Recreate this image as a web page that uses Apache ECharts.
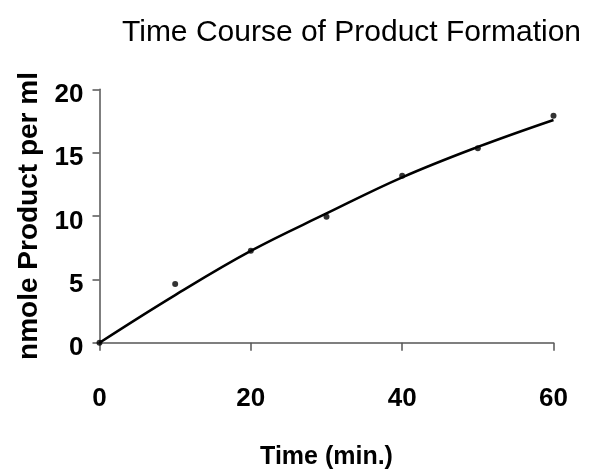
<!DOCTYPE html>
<html>
<head>
<meta charset="utf-8">
<script src="https://cdn.jsdelivr.net/npm/echarts@6/dist/echarts.min.js"></script>
<style>html,body{margin:0;padding:0;background:#fff;}#c{width:592px;height:469px;}</style>
</head>
<body>
<div id="c"></div>
<script>
const timeMin = [0, 10, 20, 30, 40, 50, 60];
const product = [0, 4.63, 7.26, 9.95, 13.18, 15.34, 17.92];
const trendTime = [0, 10, 20, 30, 40, 50, 60];
const trendValue = [0, 3.76, 7.25, 10.2, 13.05, 15.45, 17.58];
const xTicks = [0, 20, 40, 60];
const yTicks = [0, 5, 10, 15, 20];

const chart = echarts.init(document.getElementById('c'), null, {renderer: 'canvas'});
const font = 'Liberation Sans, Arial, sans-serif';
chart.setOption({
  animation: false,
  backgroundColor: '#fff',
  title: {
    text: 'Time Course of Product Formation',
    left: 117, top: 13,
    textStyle: {fontFamily: font, fontWeight: 'normal', fontSize: 30, color: '#000'}
  },
  grid: {left: 99.5, right: 38.5, top: 89.3, bottom: 126.3, containLabel: false, outerBoundsMode: 'none'},
  xAxis: {
    type: 'value', min: 0, max: 60, interval: 20,
    name: 'Time (min.)', nameLocation: 'middle', nameGap: 102,
    nameTextStyle: {fontFamily: font, fontWeight: 'bold', fontSize: 25, color: '#000'},
    axisLine: {show: true, lineStyle: {color: '#555', width: 1.5}},
    axisTick: {show: true, inside: false, length: 8, lineStyle: {color: '#555', width: 1.5}},
    axisLabel: {margin: 43, fontFamily: font, fontWeight: 'bold', fontSize: 26, color: '#000',
      formatter: v => xTicks.includes(v) ? String(v) : ''},
    splitLine: {show: false}
  },
  yAxis: {
    type: 'value', min: 0, max: 20, interval: 5,
    name: 'nmole Product per ml', nameLocation: 'middle', nameGap: 54,
    nameTextStyle: {fontFamily: font, fontWeight: 'bold', fontSize: 28, color: '#000'},
    axisLine: {show: true, lineStyle: {color: '#555', width: 1.5}},
    axisTick: {show: true, inside: false, length: 7, lineStyle: {color: '#555', width: 1.5}},
    axisLabel: {margin: 16, color: '#000',
      formatter: v => yTicks.includes(v) ? '{v|' + v + '}' : '',
      rich: {v: {fontFamily: font, fontWeight: 'bold', fontSize: 26, color: '#000', padding: [11, 0, 0, 0]}}},
    splitLine: {show: false}
  },
  series: [
    {
      type: 'line',
      data: trendTime.map((t, i) => [t, trendValue[i]]),
      smooth: 0.4,
      showSymbol: false,
      lineStyle: {color: '#000', width: 2.5},
      z: 2
    },
    {
      type: 'scatter',
      data: timeMin.map((t, i) => [t, product[i]]),
      symbol: 'circle', symbolSize: 6,
      itemStyle: {color: '#000'},
      z: 3
    }
  ]
});
</script>
</body>
</html>
